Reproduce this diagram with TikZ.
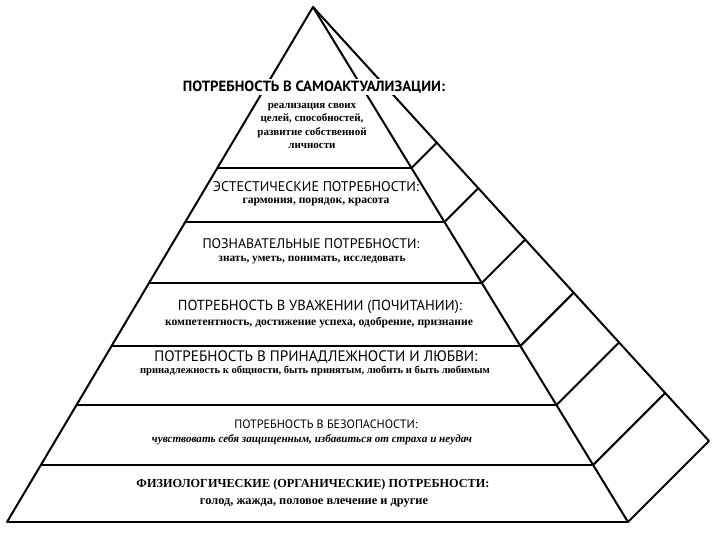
\documentclass[tikz,border=0pt]{standalone}
\usepackage{fontspec}
\setmainfont{Liberation Serif}
\newfontfamily\hfont{PT Sans}
\usetikzlibrary{calc}
\newcommand{\fitw}[2]{\resizebox{#1pt}{!}{#2}}
\begin{document}
\begin{tikzpicture}[x=1pt,y=-1pt,
  edge/.style={line width=2pt, line join=round, line cap=round},
  tier/.style={line width=2.8pt},
  side/.style={line width=2pt, line cap=round},
  lbl/.style={inner sep=0pt, anchor=center},
  hdr/.style={lbl, font=\hfont},
  dsc/.style={lbl, font=\bfseries}]
\fill[white] (0,0) rectangle (720,540);
\useasboundingbox (0,0) rectangle (720,540);
\coordinate (A) at (313,7);
\coordinate (L) at (7,522);
\coordinate (R) at (628,522);
\coordinate (F) at (709,441);
\foreach \t [count=\i] in {0.3126,0.4175,0.5359,0.6583,0.7728,0.8893} {
  \coordinate (L\i) at ($(A)!\t!(L)$);
  \coordinate (R\i) at ($(A)!\t!(R)$);
  \coordinate (Q\i) at ($(A)!\t!(F)$);
  \draw[tier] (L\i) -- (R\i);
  \draw[side] (R\i) -- (Q\i);
}
\draw[tier] (L) -- (R);
\draw[edge] (L) -- (A) -- (R);
\draw[edge] (A) -- (F) -- (R);
% tier 1
\node[hdr, fill=white, inner sep=1.5pt] (h1) at (314,87) {\fitw{262}{\bfseries ПОТРЕБНОСТЬ В САМОАКТУАЛИЗАЦИИ:}};
\node[dsc, align=center, font=\bfseries\fontsize{11}{13.5}\selectfont] (d1) at (312,126)
  {реализация своих\\целей, способностей,\\развитие собственной\\личности};
% tier 2
\node[hdr] (h2) at (316,187) {\fitw{206}{ЭСТЕСТИЧЕСКИЕ ПОТРЕБНОСТИ:}};
\node[dsc] (d2) at (316,202) {\fitw{147}{\bfseries гармония, порядок, красота}};
% tier 3
\node[hdr] (h3) at (311,244) {\fitw{217}{ПОЗНАВАТЕЛЬНЫЕ ПОТРЕБНОСТИ:}};
\node[dsc] (d3) at (312,260) {\fitw{187}{\bfseries знать, уметь, понимать, исследовать}};
% tier 4
\node[hdr] (h4) at (320,307) {\fitw{284}{ПОТРЕБНОСТЬ В УВАЖЕНИИ (ПОЧИТАНИИ):}};
\node[dsc] (d4) at (319,323) {\fitw{308}{\bfseries компетентность, достижение успеха, одобрение, признание}};
% tier 5
\node[hdr] (h5) at (316,357) {\fitw{323}{ПОТРЕБНОСТЬ В ПРИНАДЛЕЖНОСТИ И ЛЮБВИ:}};
\node[dsc] (d5) at (315,371) {\fitw{350}{\bfseries принадлежность к общности, быть принятым, любить и быть любимым}};
% tier 6
\node[hdr] (h6) at (326,424) {\fitw{183}{ПОТРЕБНОСТЬ В БЕЗОПАСНОСТИ:}};
\node[dsc] (d6) at (312,440) {\fitw{320}{\bfseries\itshape чувствовать себя защищенным, избавиться от страха и неудач}};
% tier 7
\node[lbl] (h7) at (313,485) {\fitw{353}{\bfseries ФИЗИОЛОГИЧЕСКИЕ (ОРГАНИЧЕСКИЕ) ПОТРЕБНОСТИ:}};
\node[dsc] (d7) at (314,503) {\fitw{228}{\bfseries голод, жажда, половое влечение и другие}};
\end{tikzpicture}
\end{document}
